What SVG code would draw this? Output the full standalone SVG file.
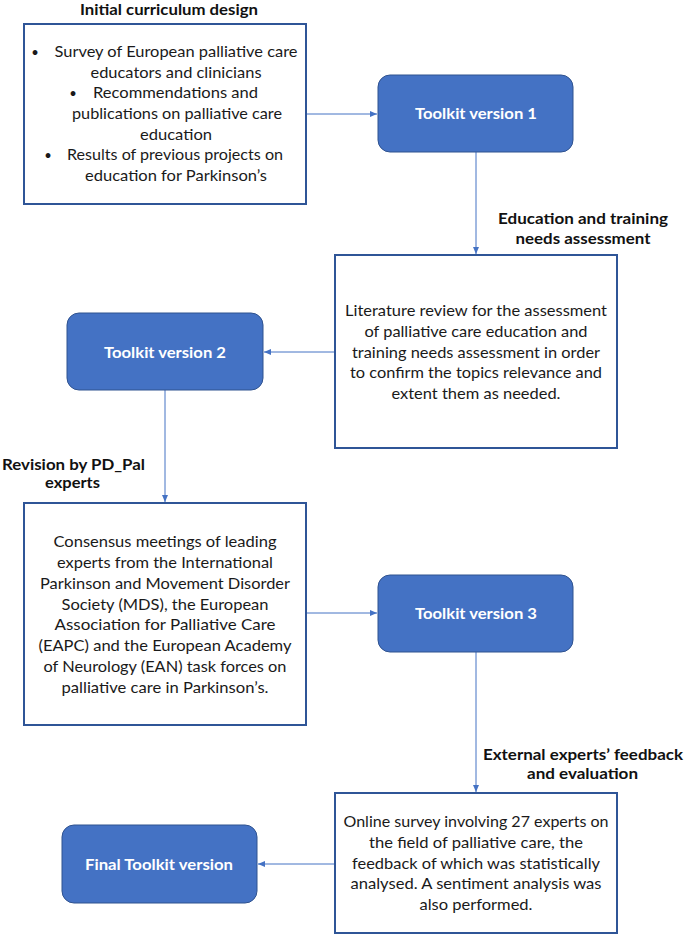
<svg xmlns="http://www.w3.org/2000/svg" width="685" height="937" viewBox="0 0 685 937">
<style>
.box{fill:#ffffff;stroke:#2F5597;stroke-width:2}
.tk{fill:#4472C4;stroke:#2F528F;stroke-width:1}
.body{font-family:Lato,"Liberation Sans",sans-serif;font-size:15px;fill:#1a1a1a;text-anchor:middle}
.bul{font-family:Lato,"Liberation Sans",sans-serif;font-size:13px;fill:#1a1a1a;text-anchor:middle}
.lbl{font-family:Lato,"Liberation Sans",sans-serif;font-size:15.5px;font-weight:bold;fill:#111111;text-anchor:middle}
.ttl{font-family:Lato,"Liberation Sans",sans-serif;font-size:15px;font-weight:bold;fill:#111111;text-anchor:middle}
.tkt{font-family:Lato,"Liberation Sans",sans-serif;font-size:15.5px;font-weight:bold;fill:#ffffff;text-anchor:middle}
.conn{fill:none;stroke:#4472C4;stroke-width:1}
</style>
<defs>
<marker id="ah" markerUnits="userSpaceOnUse" markerWidth="7" markerHeight="6" refX="7" refY="3" orient="auto">
<path d="M0,0 L7,3 L0,6 z" fill="#4472C4"/>
</marker>
</defs>
<rect width="685" height="937" fill="#ffffff"/>

<g id="connectors">
<path class="conn" d="M306,114 H377" marker-end="url(#ah)"/>
<path class="conn" d="M476,152 V254" marker-end="url(#ah)"/>
<path class="conn" d="M335,352 H264" marker-end="url(#ah)"/>
<path class="conn" d="M165,390 V502" marker-end="url(#ah)"/>
<path class="conn" d="M306,613 H377" marker-end="url(#ah)"/>
<path class="conn" d="M476,652 V792" marker-end="url(#ah)"/>
<path class="conn" d="M335,864 H258" marker-end="url(#ah)"/>
</g>

<g id="initial-design">
<text class="ttl" x="169" y="15" textLength="178" lengthAdjust="spacingAndGlyphs">Initial curriculum design</text>
<rect class="box" x="24" y="24" width="282" height="180"/>
<text class="bul" x="35" y="57">•</text>
<text class="body" x="176" y="57" textLength="243" lengthAdjust="spacingAndGlyphs">Survey of European palliative care</text>
<text class="body" x="176" y="77.5" textLength="171" lengthAdjust="spacingAndGlyphs">educators and clinicians</text>
<text class="bul" x="73" y="98">•</text>
<text class="body" x="175.5" y="98" textLength="165" lengthAdjust="spacingAndGlyphs">Recommendations and</text>
<text class="body" x="177" y="119" textLength="210" lengthAdjust="spacingAndGlyphs">publications on palliative care</text>
<text class="body" x="176" y="140" textLength="72" lengthAdjust="spacingAndGlyphs">education</text>
<text class="bul" x="48" y="160">•</text>
<text class="body" x="175" y="160" textLength="216" lengthAdjust="spacingAndGlyphs">Results of previous projects on</text>
<text class="body" x="176" y="181" textLength="182" lengthAdjust="spacingAndGlyphs">education for Parkinson’s</text>
</g>

<g id="toolkit-v1">
<rect class="tk" x="378" y="75" width="195" height="77" rx="12"/>
<text class="tkt" x="476" y="119" textLength="122" lengthAdjust="spacingAndGlyphs">Toolkit version 1</text>
</g>

<g id="needs-assessment-label">
<text class="lbl" x="583" y="224" textLength="170" lengthAdjust="spacingAndGlyphs">Education and training</text>
<text class="lbl" x="583" y="244" textLength="135" lengthAdjust="spacingAndGlyphs">needs assessment</text>
</g>

<g id="literature-review">
<rect class="box" x="335" y="255" width="282" height="193"/>
<text class="body" x="476" y="316" textLength="262" lengthAdjust="spacingAndGlyphs">Literature review for the assessment</text>
<text class="body" x="476" y="337" textLength="223" lengthAdjust="spacingAndGlyphs">of palliative care education and</text>
<text class="body" x="476" y="358" textLength="248" lengthAdjust="spacingAndGlyphs">training needs assessment in order</text>
<text class="body" x="476" y="378" textLength="252" lengthAdjust="spacingAndGlyphs">to confirm the topics relevance and</text>
<text class="body" x="476" y="399" textLength="169" lengthAdjust="spacingAndGlyphs">extent them as needed.</text>
</g>

<g id="toolkit-v2">
<rect class="tk" x="67" y="313" width="196" height="77" rx="12"/>
<text class="tkt" x="165" y="358" textLength="122" lengthAdjust="spacingAndGlyphs">Toolkit version 2</text>
</g>

<g id="revision-label">
<text class="lbl" x="73.5" y="470" textLength="143" lengthAdjust="spacingAndGlyphs">Revision by PD_Pal</text>
<text class="lbl" x="72.5" y="488" textLength="55" lengthAdjust="spacingAndGlyphs">experts</text>
</g>

<g id="consensus-meetings">
<rect class="box" x="24" y="503" width="282" height="222"/>
<text class="body" x="165" y="547" textLength="223" lengthAdjust="spacingAndGlyphs">Consensus meetings of leading</text>
<text class="body" x="165" y="567.5" textLength="216" lengthAdjust="spacingAndGlyphs">experts from the International</text>
<text class="body" x="165" y="588.5" textLength="250" lengthAdjust="spacingAndGlyphs">Parkinson and Movement Disorder</text>
<text class="body" x="165" y="609.5" textLength="207" lengthAdjust="spacingAndGlyphs">Society (MDS), the European</text>
<text class="body" x="165" y="630" textLength="221" lengthAdjust="spacingAndGlyphs">Association for Palliative Care</text>
<text class="body" x="165" y="651" textLength="253" lengthAdjust="spacingAndGlyphs">(EAPC) and the European Academy</text>
<text class="body" x="165" y="672" textLength="243" lengthAdjust="spacingAndGlyphs">of Neurology (EAN) task forces on</text>
<text class="body" x="165" y="692.5" textLength="207" lengthAdjust="spacingAndGlyphs">palliative care in Parkinson’s.</text>
</g>

<g id="toolkit-v3">
<rect class="tk" x="378" y="575" width="195" height="77" rx="12"/>
<text class="tkt" x="476" y="619" textLength="122" lengthAdjust="spacingAndGlyphs">Toolkit version 3</text>
</g>

<g id="external-label">
<text class="lbl" x="583" y="760" textLength="200" lengthAdjust="spacingAndGlyphs">External experts’ feedback</text>
<text class="lbl" x="582.5" y="779" textLength="111" lengthAdjust="spacingAndGlyphs">and evaluation</text>
</g>

<g id="online-survey">
<rect class="box" x="335" y="793" width="282" height="140"/>
<text class="body" x="476" y="827" textLength="265" lengthAdjust="spacingAndGlyphs">Online survey involving 27 experts on</text>
<text class="body" x="476" y="848" textLength="214" lengthAdjust="spacingAndGlyphs">the field of palliative care, the</text>
<text class="body" x="476" y="868.5" textLength="248" lengthAdjust="spacingAndGlyphs">feedback of which was statistically</text>
<text class="body" x="476" y="889" textLength="251" lengthAdjust="spacingAndGlyphs">analysed. A sentiment analysis was</text>
<text class="body" x="476" y="910" textLength="113" lengthAdjust="spacingAndGlyphs">also performed.</text>
</g>

<g id="final-toolkit">
<rect class="tk" x="62" y="825" width="195" height="78" rx="12"/>
<text class="tkt" x="159" y="870" textLength="148" lengthAdjust="spacingAndGlyphs">Final Toolkit version</text>
</g>
</svg>
